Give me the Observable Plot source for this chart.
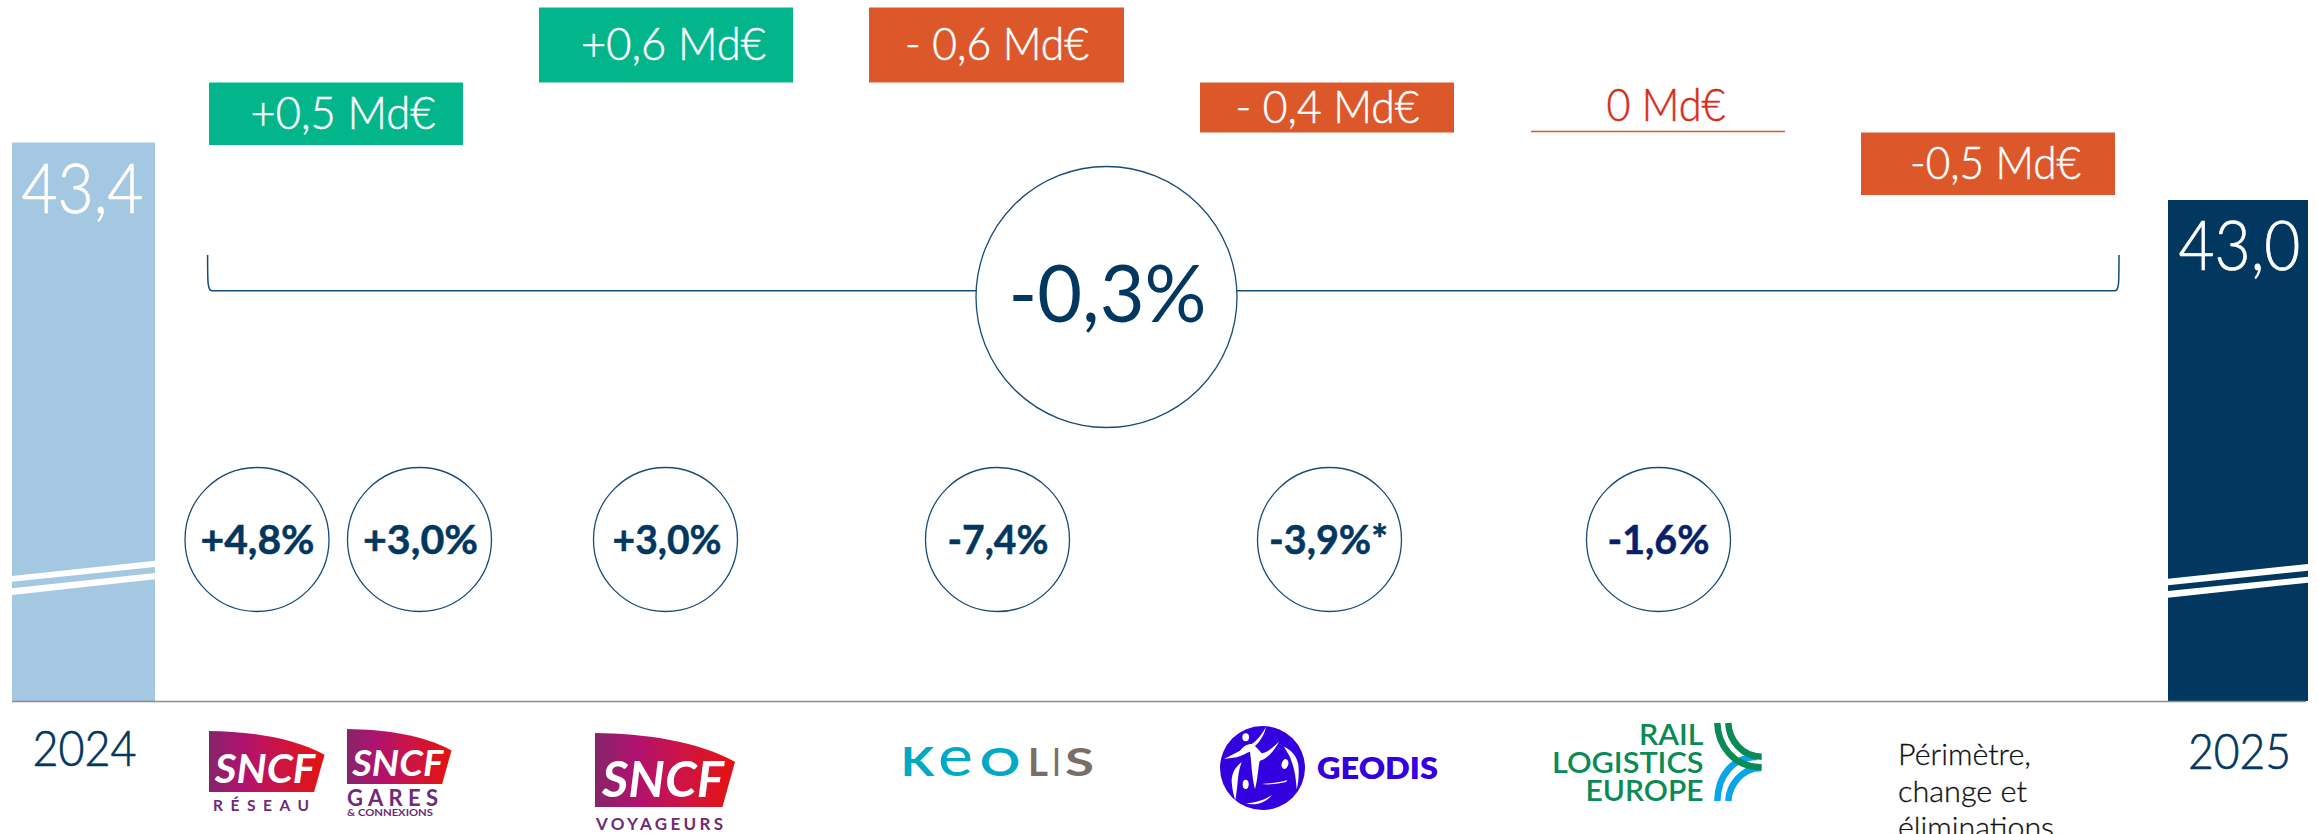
<!DOCTYPE html>
<html lang="fr">
<head>
<meta charset="utf-8">
<title>Chiffre d'affaires 2024-2025</title>
<script src="https://cdn.jsdelivr.net/npm/d3@7"></script>
<script src="https://cdn.jsdelivr.net/npm/@observablehq/plot@0.6"></script>
<style>
html,body{margin:0;padding:0;background:#fff;overflow:hidden;width:2318px;height:834px}
#chart svg{display:block;max-width:none}
</style>
</head>
<body>
<div id="chart"></div>
<script>
// ---- data ----
const years = ["2024", "2025"];
const yearTotals = [43.42, 42.96];
const yearLabels = ["43,4", "43,0"];
const startValue = 43.4;
const contributors = ["SNCF Réseau + Gares", "SNCF Voyageurs", "Keolis", "Geodis", "Rail Logistics Europe", "Périmètre, change et éliminations"];
const deltas = [0.5, 0.6, -0.6, -0.4, 0, -0.5];
const deltaLabels = ["+0,5 Md€", "+0,6 Md€", "- 0,6 Md€", "- 0,4 Md€", "0 Md€", "-0,5 Md€"];
const growthLabels = ["+4,8%", "+3,0%", "+3,0%", "-7,4%", "-3,9%*", "-1,6%"];
const totalGrowth = "-0,3%";
const axisBase = 38.952;

// ---- layout (pixels) ----
const W = 2318, H = 834;
const FONT = "Lato, 'Noto Sans', sans-serif";
const NAVY = "#02375f", LIGHT = "#a5c8e2", GREEN = "#03b58a", ORANGE = "#dc582a", LINE = "#164b7a";
const yearBars = [[12,155],[2168,2308]];
const yearText = [{x:82,w:122},{x:2239,w:122}];
const yearTickX = [84,2239];
const boxes = [[209,463],[539,793],[869,1124],[1200,1454],[1531,1785],[1861,2115]];
const boxText = [{x:342.5,w:185},{x:673,w:185},{x:996.5,w:184},{x:1327,w:184},{x:1665.5,w:119},{x:1995,w:171}];
const circleX = [256.5,419,665,997,1329,1658];
const circleTextX = [{x:257,w:114},{x:420,w:115},{x:666.5,w:109},{x:997.5,w:101},{x:1328,w:119},{x:1658,w:102}];
const circleColor = [NAVY,NAVY,NAVY,NAVY,NAVY,"#08206b"];

// ---- derived tables ----
let run = startValue;
const steps = deltas.map((d,i) => {
  const from = run; run += d;
  return {name:contributors[i], label:deltaLabels[i], delta:d, from, to:run, x1:boxes[i][0], x2:boxes[i][1], tx:boxText[i].x, tw:boxText[i].w, mid:(from+run)/2};
});
const totals = years.map((y,i)=>({year:y, value:yearTotals[i], label:yearLabels[i], x1:yearBars[i][0], x2:yearBars[i][1], tx:yearText[i].x, tw:yearText[i].w, tick:yearTickX[i], fill:i?NAVY:LIGHT}));
const growth = growthLabels.map((g,i)=>({label:g,x:circleX[i],tx:circleTextX[i].x,tw:circleTextX[i].w,color:circleColor[i]}));
const svgNS = "http://www.w3.org/2000/svg";
function el(name, attrs, parent, text){
  const n = document.createElementNS(svgNS,name);
  if(name==="text") n.setAttribute("text-anchor","start");
  for(const k in attrs) n.setAttribute(k,attrs[k]);
  if(text!==undefined) n.textContent = text;
  if(parent) parent.appendChild(n);
  return n;
}

// ---- decorations: bracket, axis-break slashes, logos ----
function bracketMark(){
  const g = el("g",{});
  el("path",{d:"M207.6 255 C207.6 283 207.6 290.7 212 290.7 L2115 290.7 C2119 290.7 2119 283 2119 255",fill:"none",stroke:LINE,"stroke-width":1.5},g);
  return g;
}
function breakMark(){
  const g = el("g",{});
  const polys = [
    [[12,576],[155,560.7],[155,567],[12,581.7]],
    [[12,588.3],[155,573],[155,579.3],[12,595]],
    [[2168,578.7],[2308,564],[2308,570.7],[2168,585.3]],
    [[2168,591],[2308,576.7],[2308,582.7],[2168,597.7]]
  ];
  for(const p of polys) el("polygon",{points:p.map(a=>a.join(",")).join(" "),fill:"#fff"},g);
  return g;
}
function sncf(g,id,x,y,w,h){
  const defs = el("defs",{},g);
  const lg = el("linearGradient",{id,x1:"0",x2:"1",y1:"0",y2:"0"},defs);
  [["0","#86256a"],[".3","#b0126f"],[".65","#cf1440"],["1","#e4120e"]].forEach(([o,c])=>el("stop",{offset:o,"stop-color":c},lg));
  const px=a=>x+a*w/100, py=a=>y+a*h/100;
  el("path",{d:`M${px(0)} ${py(0)} C${px(35)} ${py(1)} ${px(72)} ${py(10)} ${px(100)} ${py(39)} L${px(91)} ${py(100)} L${px(0)} ${py(100)} Z`,fill:`url(#${id})`},g);
  el("text",{x:px(5),y:py(86),fill:"#fff","font-family":FONT,"font-weight":700,"font-style":"italic","font-size":h*0.66,textLength:w*0.87,lengthAdjust:"spacingAndGlyphs"},g,"SNCF");
}
function logoMark(){
  const g = el("g",{});
  const PUR = "#6f2a78";
  sncf(g,"gr",209,731,115.5,61);
  el("text",{x:213,y:811,fill:PUR,"font-family":FONT,"font-weight":700,"font-size":15.5,textLength:96,lengthAdjust:"spacing"},g,"RÉSEAU");
  sncf(g,"gg",347,729,104.5,55);
  el("text",{x:347,y:806,fill:PUR,"font-family":FONT,"font-weight":700,"font-size":22,textLength:91,lengthAdjust:"spacing"},g,"GARES");
  el("text",{x:347,y:816,fill:PUR,"font-family":FONT,"font-weight":700,"font-size":9.5,textLength:86,lengthAdjust:"spacingAndGlyphs"},g,"& CONNEXIONS");
  sncf(g,"gv",595,733,140,74);
  el("text",{x:596,y:830,fill:PUR,"font-family":FONT,"font-weight":700,"font-size":17,textLength:127,lengthAdjust:"spacing"},g,"VOYAGEURS");
  // Keolis wordmark, letter by letter (stretched after layout)
  const TEAL="#00a9c4", TAUPE="#7a6e66";
  [["K",900.7,34,TEAL,40,700],["e",938,35,TEAL,56,400],["O",980,40,TEAL,39,700],["L",1028,20,TAUPE,39,700],["I",1053,7,TAUPE,39,700],["S",1065,29,TAUPE,39,700]].forEach(([t,x,w,c,s,wt])=>
    el("text",{class:"stretch","data-x":x,"data-w":w,x:0,y:776.5,fill:c,"font-family":FONT,"font-weight":wt,"font-size":s},g,t));
  // Geodis emblem
  el("ellipse",{cx:1262.5,cy:768,rx:42.5,ry:42,fill:"#3300e0"},g);
  const e = el("g",{transform:"translate(1210,720) scale(0.3333)",fill:"#fff"},g);
  el("path",{d:"M168,20 C155,45 140,62 125,72 C110,72 100,80 90,92 L42,117 L80,112 C95,108 110,98 120,95 C125,130 125,170 135,208 C145,170 145,130 150,122 C170,118 195,90 207,65 C190,80 170,100 155,100 C148,92 142,85 135,78 C150,65 165,40 168,20 Z"},e);
  el("ellipse",{cx:107,cy:52,rx:10,ry:12},e);
  el("ellipse",{cx:225,cy:132,rx:10,ry:15,transform:"rotate(15 225 132)"},e);
  el("ellipse",{cx:107,cy:193,rx:9,ry:14},e);
  el("path",{d:"M222,80 C245,90 262,110 265,135 C268,165 265,190 260,208 C258,180 255,150 245,125 C240,105 230,95 222,80 Z"},e);
  el("path",{d:"M155,192 C180,190 210,188 232,180 L228,186 C205,192 175,195 155,192 Z"},e);
  el("path",{d:"M108,250 C135,248 165,240 186,224 C170,248 135,258 108,250 Z"},e);
  el("path",{d:"M95,127 C70,145 62,170 66,195 C68,215 72,230 76,240 C80,220 82,195 84,175 C86,155 90,140 95,127 Z"},e);
  el("text",{x:1317,y:779,fill:"#3300e0","font-family":FONT,"font-weight":800,"font-size":30,textLength:121,lengthAdjust:"spacingAndGlyphs"},g,"GEODIS");
  // Rail Logistics Europe
  const RG="#0a8a55", RB="#0aa5e8";
  [["RAIL",745,64.5],["LOGISTICS",773,151.5],["EUROPE",801,118]].forEach(([t,y,w])=>
    el("text",{x:1703.5-w,y,fill:RG,"font-family":FONT,"font-weight":600,"font-size":29.5,textLength:w,lengthAdjust:"spacingAndGlyphs"},g,t));
  el("path",{d:"M1717.3 801 C1718 775 1733 757 1757 757",fill:"none",stroke:RB,"stroke-width":6.5},g);
  el("path",{d:"M1728.3 801 C1729 785 1742 768 1761 768",fill:"none",stroke:RB,"stroke-width":6.5},g);
  el("path",{d:"M1717.3 723 C1718 745 1733 767.3 1761.7 767.3",fill:"none",stroke:RG,"stroke-width":6.5},g);
  el("path",{d:"M1728.3 723 C1729 740 1742 756.7 1761.7 756.7",fill:"none",stroke:RG,"stroke-width":6.5},g);
  // Périmètre label (runs off the bottom edge as in the source)
  [["Périmètre,",765,133],["change et",802,129],["éliminations",838,156]].forEach(([t,y,w])=>
    el("text",{x:1898,y,fill:"#111","font-family":FONT,"font-weight":300,"font-size":30,stroke:"#111","stroke-width":0.3,textLength:w,lengthAdjust:"spacingAndGlyphs"},g,t));
  return g;
}

const light = {fontWeight:300,fontFamily:FONT,lineAnchor:"middle"};
const plot = Plot.plot({
  width:W, height:H, margin:0, style:{background:"#fff",fontFamily:FONT},
  x:{domain:[0,W],range:[0,W],axis:null},
  y:{domain:[37.888,44.56],range:[H,0],axis:null},
  marks:[
    Plot.rect(totals,{x1:"x1",x2:"x2",y1:axisBase,y2:"value",fill:d=>d.fill}),
    Plot.rect(steps.filter(d=>d.delta!==0),{x1:"x1",x2:"x2",y1:"from",y2:"to",fill:d=>d.delta>0?GREEN:ORANGE}),
    Plot.ruleY(steps.filter(d=>d.delta===0),{x1:"x1",x2:"x2",y:"to",dy:-1.5,stroke:ORANGE,strokeWidth:1.5}),
    Plot.ruleY([axisBase],{x1:12,x2:2306,stroke:"#8c8c8c",strokeWidth:1.6}),
    breakMark,
    bracketMark,
    Plot.dot([{x:1106}],{x:"x",frameAnchor:"top",dy:296.5,r:130.5,fill:"#fff",stroke:LINE,strokeWidth:1.3}),
    Plot.dot(growth,{x:"x",frameAnchor:"top",dy:539,r:72,fill:"#fff",stroke:LINE,strokeWidth:1.3}),
    Plot.text(steps.filter(d=>d.delta!==0),{x:"tx",y:"mid",text:"label",fill:"#fff",stroke:"#fff",strokeWidth:0.5,fontSize:46,...light,className:"t-step"}),
    Plot.text(steps.filter(d=>d.delta===0),{x:"tx",y:"mid",dy:-27,text:"label",fill:"#d82c18",stroke:"#d82c18",strokeWidth:0.5,fontSize:46,...light,className:"t-zero"}),
    Plot.text(totals,{x:"tx",y:"value",text:"label",fill:"#fff",stroke:"#fff",strokeWidth:0.7,dy:48,fontSize:68,...light,className:"t-total"}),
    Plot.text(totals.slice(0,1),{x:"tick",frameAnchor:"top",dy:749,text:"year",fill:NAVY,stroke:NAVY,strokeWidth:0.7,fontSize:50,...light,className:"t-year0"}),
    Plot.text(totals.slice(1),{x:"tick",frameAnchor:"top",dy:752.5,text:"year",fill:NAVY,stroke:NAVY,strokeWidth:0.7,fontSize:50,...light,className:"t-year1"}),
    Plot.text([{x:1107,t:totalGrowth}],{x:"x",frameAnchor:"top",dy:296,text:"t",fill:NAVY,fontSize:80,fontWeight:400,fontFamily:FONT,lineAnchor:"middle",className:"t-big"}),
    Plot.text(growth,{x:"tx",frameAnchor:"top",dy:541,text:"label",fill:"color",stroke:"color",strokeWidth:0.5,fontSize:40,fontWeight:700,fontFamily:FONT,lineAnchor:"middle",className:"t-growth"}),
    logoMark
  ]
});
document.getElementById("chart").appendChild(plot);

// Fit text widths to what the reference shows
function fit(cls,arr){
  plot.querySelectorAll("g."+cls+" text").forEach((t,i)=>{
    t.setAttribute("textLength",arr[i]);
    t.setAttribute("lengthAdjust","spacingAndGlyphs");
  });
}
fit("t-step",steps.filter(d=>d.delta!==0).map(d=>d.tw));
fit("t-zero",steps.filter(d=>d.delta===0).map(d=>d.tw));
fit("t-total",totals.map(d=>d.tw));
fit("t-growth",growth.map(d=>d.tw));
fit("t-big",[198]);
fit("t-year0",[104]);
fit("t-year1",[103]);
plot.querySelectorAll("text.stretch").forEach(t=>{
  const b = t.getBBox(), sx = (+t.dataset.w)/b.width;
  t.setAttribute("transform",`translate(${+t.dataset.x},0) scale(${sx},1)`);
});
</script>
</body>
</html>
